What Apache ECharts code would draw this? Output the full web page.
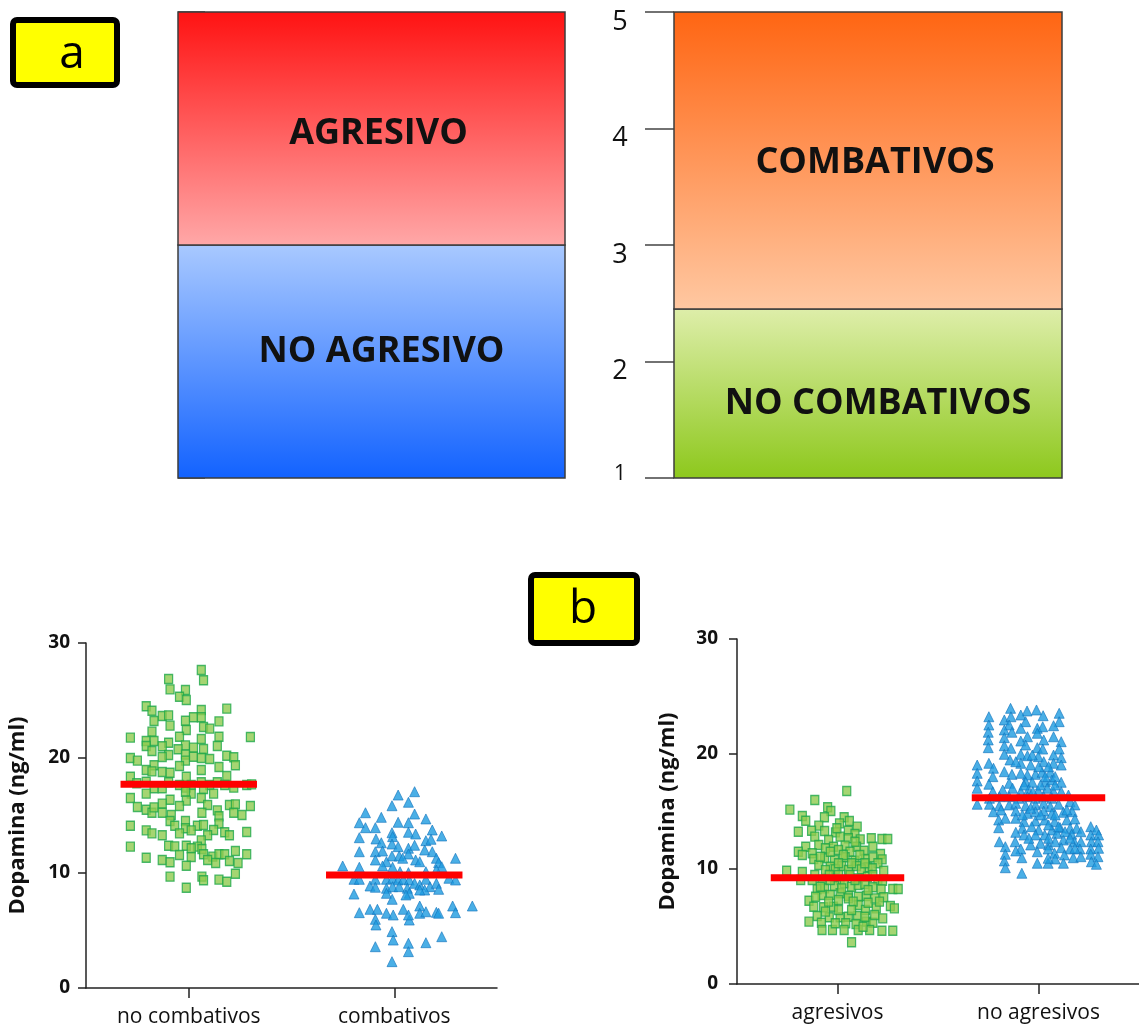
<!DOCTYPE html>
<html>
<head>
<meta charset="utf-8">
<script src="https://cdn.jsdelivr.net/npm/echarts@6/dist/echarts.min.js"></script>
<style>
  html, body { margin: 0; padding: 0; background: #ffffff; }
  #chart { width: 1139px; height: 1030px; }
</style>
</head>
<body>
<div id="chart"></div>
<script>
// ---- Panel a: behaviour scale (1 to 5) ----
const scaleTicks = [1, 2, 3, 4, 5];
const aggressionLabels = ['NO AGRESIVO', 'AGRESIVO'];
const aggressionBounds = [1, 3, 5];
const combatLabels = ['NO COMBATIVOS', 'COMBATIVOS'];
const combatBounds = [1, 2.45, 5];

// ---- Panel b: dopamine (ng/ml) per group; [jitter position, value] ----
const combatCategories = ['no combativos', 'combativos'];
const aggressionCategories = ['agresivos', 'no agresivos'];
const combatMeans = [17.71, 9.83];
const aggressionMeans = [9.25, 16.20];

const noCombativos = [
  [0.561,27.65],[0.402,26.87],[0.572,26.76],[0.409,25.97],[0.484,25.91],[0.455,25.33],[0.488,25.04],
  [0.293,24.50],[0.321,24.11],[0.685,24.29],[0.561,24.17],[0.371,23.65],[0.402,23.71],[0.523,23.54],
  [0.561,23.54],[0.331,23.22],[0.484,23.24],[0.647,23.19],[0.409,22.81],[0.572,22.70],[0.602,22.55],
  [0.488,22.43],[0.321,22.29],[0.216,21.77],[0.800,21.83],[0.647,21.85],[0.455,21.85],[0.561,21.65],
  [0.293,21.48],[0.331,21.48],[0.402,21.33],[0.371,21.02],[0.484,21.10],[0.523,20.90],[0.293,21.04],
  [0.639,21.04],[0.572,20.78],[0.448,20.76],[0.321,20.61],[0.402,20.26],[0.371,20.09],[0.484,20.29],
  [0.523,20.11],[0.561,20.00],[0.216,20.00],[0.250,19.77],[0.602,19.91],[0.685,20.20],[0.719,20.06],
  [0.484,19.77],[0.331,19.37],[0.727,19.37],[0.647,19.22],[0.293,18.96],[0.321,18.84],[0.455,19.30],
  [0.371,18.78],[0.409,18.72],[0.561,18.96],[0.216,18.37],[0.488,18.37],[0.685,18.43],
  [0.247,17.80],[0.293,17.94],[0.331,17.37],[0.371,17.37],[0.402,17.89],[0.455,17.65],[0.488,17.42],
  [0.512,17.65],[0.561,17.89],[0.602,17.65],[0.639,17.89],[0.675,17.65],[0.719,17.42],[0.782,17.65],
  [0.806,17.71],[0.572,17.30],[0.216,16.52],[0.293,16.90],[0.512,16.90],[0.484,17.07],[0.561,16.52],
  [0.621,16.90],[0.250,15.74],[0.409,16.37],[0.488,16.29],[0.371,16.03],[0.455,15.83],[0.592,15.91],
  [0.698,15.91],[0.727,15.97],[0.800,15.83],[0.293,15.50],[0.321,15.24],[0.331,15.71],[0.371,15.24],
  [0.415,15.04],[0.639,15.45],[0.719,15.24],[0.759,15.04],[0.564,15.24],[0.647,14.93],[0.409,14.52],
  [0.484,14.52],[0.216,14.11],[0.432,14.11],[0.542,14.11],[0.572,14.17],[0.647,14.29],[0.293,13.71],
  [0.321,13.45],[0.484,13.89],[0.512,13.71],[0.455,13.45],[0.621,13.74],[0.675,13.54],[0.782,13.57],
  [0.371,13.28],[0.592,13.28],[0.698,13.28],[0.561,12.84],[0.216,12.29],[0.402,12.37],[0.432,12.32],
  [0.488,12.37],[0.542,12.29],[0.512,12.15],[0.564,12.09],[0.727,11.91],[0.455,11.57],[0.512,11.39],
  [0.572,11.63],[0.617,11.42],[0.647,11.63],[0.675,11.63],[0.782,11.63],[0.293,11.33],[0.371,11.13],
  [0.409,10.93],[0.592,11.13],[0.631,10.87],[0.698,11.04],[0.740,10.87],[0.488,10.63],[0.409,9.68],
  [0.564,9.68],[0.572,9.37],[0.727,9.94],[0.647,9.42],[0.685,9.24],[0.488,8.72]
];

const combativos = [
  [1.519,16.78],[1.599,17.07],[1.489,15.85],[1.569,16.15],[1.360,15.24],[1.437,14.84],[1.599,15.13],
  [1.330,14.37],[1.360,13.94],[1.408,13.94],[1.519,14.41],[1.569,14.37],[1.654,14.70],[1.489,13.50],
  [1.569,13.54],[1.604,13.39],[1.685,13.74],[1.330,13.07],[1.411,12.96],[1.492,13.16],[1.654,12.81],
  [1.679,12.93],[1.731,13.22],[1.437,12.63],[1.489,12.52],[1.519,12.29],[1.569,12.15],[1.599,12.41],
  [1.648,12.00],[1.330,11.85],[1.408,11.85],[1.443,11.91],[1.489,11.48],[1.524,11.48],[1.569,11.65],
  [1.685,11.85],[1.408,11.13],[1.462,10.98],[1.541,11.28],[1.604,11.13],[1.624,10.98],[1.705,11.28],
  [1.716,10.90],[1.731,10.55],[1.798,11.28],[1.249,10.61],[1.330,10.50],[1.443,10.61],[1.492,10.50],
  [1.569,10.03],[1.654,10.11],[1.528,10.11],[1.705,10.26],[1.304,9.45],[1.330,9.45],[1.382,8.87],
  [1.408,9.45],[1.408,8.76],[1.462,9.45],[1.492,9.54],[1.519,9.39],[1.544,9.45],[1.573,9.39],
  [1.599,9.10],[1.624,8.96],[1.654,9.45],[1.674,8.81],[1.705,9.10],[1.766,9.54],[1.798,9.39],
  [1.462,8.67],[1.492,8.81],[1.524,8.81],[1.564,8.67],[1.573,8.23],[1.648,8.52],[1.716,8.58],
  [1.304,8.17],[1.462,8.23],[1.490,7.71],[1.557,8.09],[1.624,8.52],[1.330,6.55],[1.382,6.84],
  [1.418,6.84],[1.462,6.50],[1.495,6.35],[1.544,6.84],[1.573,5.91],[1.569,6.35],[1.624,7.13],
  [1.624,6.50],[1.654,6.63],[1.705,6.58],[1.716,6.50],[1.784,7.13],[1.798,6.55],[1.880,7.13],
  [1.408,5.97],[1.411,5.48],[1.489,4.90],[1.495,4.17],[1.408,3.59],[1.569,3.89],[1.569,3.16],
  [1.654,3.94],[1.731,4.46],[1.489,2.29]
];

const agresivos = [
  [0.546,16.78],[0.387,16.00],[0.263,15.16],[0.451,15.37],[0.467,15.04],[0.325,14.61],[0.342,14.20],
  [0.435,14.50],[0.533,14.50],[0.510,13.97],[0.559,14.17],[0.407,13.77],[0.598,13.68],[0.305,13.24],
  [0.371,13.33],[0.436,13.30],[0.490,13.19],[0.554,13.33],[0.587,13.04],[0.387,12.81],[0.456,12.52],
  [0.513,12.81],[0.554,12.67],[0.613,12.58],[0.668,12.67],[0.721,12.61],[0.750,12.61],[0.342,11.94],
  [0.407,12.09],[0.440,11.80],[0.480,11.94],[0.538,12.03],[0.595,11.94],[0.676,11.94],[0.305,11.50],
  [0.374,11.37],[0.505,11.65],[0.562,11.50],[0.632,11.59],[0.714,11.30],[0.382,10.87],[0.436,10.93],
  [0.485,10.78],[0.538,11.02],[0.587,10.72],[0.639,10.87],[0.676,11.02],[0.722,10.84],[0.407,10.35],
  [0.464,10.20],[0.521,10.26],[0.595,10.26],[0.652,10.15],[0.701,10.50],[0.247,9.85],[0.325,9.74],
  [0.440,9.91],[0.489,9.97],[0.554,9.91],[0.619,9.97],[0.673,10.06],[0.730,9.85],[0.317,9.04],
  [0.374,9.04],[0.423,9.04],[0.459,9.48],[0.513,9.04],[0.562,9.48],[0.603,9.19],[0.649,9.33],
  [0.701,9.04],[0.724,8.98],[0.399,8.23],[0.436,8.32],[0.485,8.52],[0.534,8.76],[0.570,8.46],
  [0.603,8.61],[0.636,8.70],[0.676,8.41],[0.717,8.23],[0.775,8.26],[0.802,8.26],[0.423,7.74],
  [0.464,7.74],[0.513,7.89],[0.554,7.65],[0.603,7.59],[0.644,7.65],[0.685,7.45],[0.730,7.54],
  [0.358,7.24],[0.382,6.72],[0.431,6.67],[0.480,6.72],[0.505,7.30],[0.554,7.45],[0.603,6.87],
  [0.639,6.43],[0.693,6.58],[0.763,6.78],[0.783,6.58],[0.399,5.91],[0.459,5.80],[0.513,5.80],
  [0.554,5.85],[0.600,5.91],[0.644,5.42],[0.676,5.33],[0.725,5.71],[0.358,5.42],[0.420,5.33],
  [0.541,5.28],[0.592,5.22],[0.423,4.70],[0.475,4.70],[0.533,4.70],[0.603,4.70],[0.660,4.70],
  [0.721,4.63],[0.775,4.63],[0.570,3.63],[0.497,13.54],[0.587,12.37],[0.464,11.50],[0.529,11.22],
  [0.611,11.22],[0.415,11.07],[0.505,10.50],[0.570,10.50],[0.636,10.50],[0.387,9.48],[0.505,9.48],
  [0.676,9.48],[0.464,9.04],[0.587,9.04],[0.415,8.46],[0.521,8.32],[0.652,8.17],[0.456,7.16],
  [0.578,7.16],[0.652,7.07],[0.709,7.16],[0.505,6.43],[0.570,6.43],[0.440,6.29],[0.391,7.59],
  [0.636,5.85],[0.685,6.00],[0.489,5.28],[0.627,4.98],[0.325,11.22]
];

const noAgresivos = [
  [1.361,23.97],[1.443,23.74],[1.490,23.83],[1.603,23.54],[1.253,23.24],[1.330,22.96],[1.363,23.24],
  [1.412,23.39],[1.523,23.33],[1.603,22.81],[1.436,22.81],[1.253,22.52],[1.354,22.52],[1.494,22.23],
  [1.575,22.46],[1.521,22.37],[1.250,21.89],[1.330,22.09],[1.412,22.23],[1.368,21.89],[1.445,21.50],
  [1.494,21.80],[1.575,21.50],[1.250,21.22],[1.330,21.42],[1.412,21.13],[1.526,21.22],[1.613,21.07],
  [1.250,20.55],[1.330,20.72],[1.363,20.50],[1.436,20.78],[1.494,20.55],[1.521,20.43],[1.603,20.43],
  [1.330,19.97],[1.412,19.97],[1.445,19.85],[1.499,19.77],[1.575,19.91],[1.613,19.68],[1.358,19.48],
  [1.412,19.19],[1.461,19.04],[1.526,19.33],[1.575,19.19],[1.613,19.04],[1.195,19.04],[1.253,19.19],
  [1.276,18.76],[1.330,18.46],[1.368,18.23],[1.445,18.17],[1.485,18.23],[1.518,18.41],[1.559,18.41],
  [1.195,18.32],[1.195,17.65],[1.273,18.03],[1.253,17.37],[1.354,17.45],[1.436,17.59],[1.469,17.54],
  [1.534,17.59],[1.567,17.74],[1.613,17.54],[1.195,17.02],[1.273,16.72],[1.322,16.87],[1.371,17.02],
  [1.412,16.72],[1.450,16.87],[1.499,16.78],[1.543,17.02],[1.575,16.72],[1.613,16.72],[1.256,16.15],
  [1.305,16.29],[1.354,16.29],[1.403,16.15],[1.445,16.29],[1.485,16.15],[1.526,16.29],[1.567,16.15],
  [1.649,16.43],[1.195,15.63],[1.256,15.63],[1.305,15.50],[1.354,15.57],[1.387,15.71],[1.436,15.50],
  [1.485,15.57],[1.526,15.71],[1.559,15.42],[1.600,15.63],[1.657,15.85],[1.681,15.57],[1.276,14.98],
  [1.314,15.13],[1.387,15.04],[1.445,14.84],[1.485,14.98],[1.526,15.04],[1.567,14.84],[1.624,14.93],
  [1.668,14.98],[1.302,14.26],[1.335,14.41],[1.387,14.41],[1.428,14.11],[1.485,14.17],[1.531,14.26],
  [1.580,14.11],[1.641,14.26],[1.681,14.35],[1.302,13.59],[1.420,13.54],[1.466,13.68],[1.501,13.39],
  [1.567,13.39],[1.608,13.59],[1.657,13.54],[1.690,13.54],[1.760,13.68],[1.387,13.19],[1.428,12.96],
  [1.485,12.96],[1.531,12.96],[1.592,13.10],[1.665,13.02],[1.711,13.24],[1.788,13.39],[1.760,12.96],
  [1.799,12.96],[1.305,12.37],[1.384,12.37],[1.461,12.09],[1.510,12.23],[1.550,12.09],[1.624,12.52],
  [1.678,12.37],[1.711,12.37],[1.763,12.37],[1.796,12.37],[1.335,11.94],[1.412,11.74],[1.548,11.74],
  [1.613,11.85],[1.657,11.74],[1.706,11.74],[1.760,11.74],[1.799,11.80],[1.335,11.28],[1.387,11.57],
  [1.494,11.50],[1.580,11.37],[1.629,11.22],[1.673,10.98],[1.711,11.07],[1.760,11.28],[1.796,11.07],
  [1.330,10.70],[1.417,10.98],[1.494,10.50],[1.548,10.50],[1.583,10.87],[1.624,10.50],[1.763,10.63],
  [1.788,10.41],[1.335,10.11],[1.548,10.93],[1.417,9.63],[1.387,19.33],[1.469,19.91],[1.550,18.90],
  [1.501,18.90],[1.412,18.32],[1.534,18.03],[1.583,18.03],[1.472,16.72],[1.428,17.30],[1.510,17.30],
  [1.583,17.30],[1.461,15.28],[1.510,14.70],[1.583,14.70],[1.420,14.70],[1.641,15.13],[1.550,13.83],
  [1.600,13.68],[1.632,13.24],[1.452,12.67],[1.550,12.67],[1.657,12.67],[1.583,12.37],[1.681,11.80]
];

// ---- styles ----
const FONT = '"Open Sans", "Liberation Sans", sans-serif';
const AXIS_COLOR = '#222';
const bandGradients = {
  'AGRESIVO': ['#ff1212', '#ffa8a8'],
  'NO AGRESIVO': ['#a9c9ff', '#1262ff'],
  'COMBATIVOS': ['#ff6512', '#ffc8a2'],
  'NO COMBATIVOS': ['#deeeaa', '#8dc81c']
};
const bandTextNudge = {
  'AGRESIVO': [7, 5], 'NO AGRESIVO': [10, -10], 'COMBATIVOS': [7, 2], 'NO COMBATIVOS': [10, 10]
};
const meanHalfWidth = 0.332;

function bandRows(labels, bounds) {
  return labels.map((name, i) => [bounds[i], bounds[i + 1], i]);
}

function bandRenderer(labels) {
  return function (params, api) {
    const lo = api.value(0), hi = api.value(1), name = labels[api.value(2)];
    const p0 = api.coord([0, hi]);
    const p1 = api.coord([1, lo]);
    const g = bandGradients[name];
    const nudge = bandTextNudge[name];
    return {
      type: 'group',
      children: [
        {
          type: 'rect',
          shape: { x: p0[0], y: p0[1], width: p1[0] - p0[0], height: p1[1] - p0[1] },
          style: {
            fill: { type: 'linear', x: 0, y: 0, x2: 0, y2: 1,
                    colorStops: [{ offset: 0, color: g[0] }, { offset: 1, color: g[1] }] },
            stroke: '#3c3c3c', lineWidth: 1.5
          }
        },
        {
          type: 'text',
          x: (p0[0] + p1[0]) / 2 + nudge[0],
          y: (p0[1] + p1[1]) / 2 + nudge[1],
          style: {
            text: name, fill: '#111', font: 'bold 36px ' + FONT,
            align: 'center', verticalAlign: 'middle'
          }
        }
      ]
    };
  };
}

function meanRenderer(params, api) {
  const x = api.value(0), v = api.value(1);
  const a = api.coord([x - meanHalfWidth, v]);
  const b = api.coord([x + meanHalfWidth, v]);
  return {
    type: 'line',
    shape: { x1: a[0], y1: a[1], x2: b[0], y2: b[1] },
    style: { stroke: '#ff0000', lineWidth: 7 }
  };
}

const squareStyle = { color: '#8ecb4f', borderColor: '#1ea84a', borderWidth: 1.3 };
const triangleStyle = { color: '#1d9be0', borderColor: '#1474bd', borderWidth: 0.8 };

function scatterYAxis(gridIndex, nameGap, labelMargin) {
  return {
    gridIndex, type: 'value', min: 0, max: 30, interval: 10,
    name: 'Dopamina (ng/ml)', nameLocation: 'middle', nameRotate: 90, nameGap,
    nameTextStyle: { fontFamily: FONT, fontWeight: 'bold', fontSize: 22, color: '#111' },
    axisLine: { show: true, lineStyle: { color: AXIS_COLOR, width: 1.5 } },
    axisTick: { show: true, length: 8, lineStyle: { color: AXIS_COLOR, width: 1.5 } },
    axisLabel: { fontFamily: FONT, fontWeight: 'bold', fontSize: 19, color: '#111', margin: labelMargin },
    splitLine: { show: false }
  };
}

function categoryXAxis(gridIndex, data) {
  return {
    gridIndex, type: 'category', data, boundaryGap: true,
    axisLine: { show: true, lineStyle: { color: AXIS_COLOR, width: 1.5 } },
    axisTick: { show: true, alignWithLabel: true, length: 10, lineStyle: { color: AXIS_COLOR, width: 1.5 } },
    axisLabel: { fontFamily: FONT, fontSize: 21, color: '#111', margin: 19 },
    splitLine: { show: false }
  };
}

const hiddenX = (gridIndex, max) => ({ gridIndex, type: 'value', min: 0, max, show: false });

const chart = echarts.init(document.getElementById('chart'), null, { renderer: 'canvas' });

chart.setOption({
  backgroundColor: '#ffffff',
  animation: false,
  grid: [
    { left: 178, top: 12, width: 387, height: 466 },
    { left: 674, top: 12, width: 388, height: 466 },
    { left: 86, top: 643, width: 411, height: 345 },
    { left: 737, top: 639, width: 408, height: 345 }
  ],
  xAxis: [
    hiddenX(0, 1),
    hiddenX(1, 1),
    categoryXAxis(2, combatCategories),
    hiddenX(2, 2),
    categoryXAxis(3, aggressionCategories),
    hiddenX(3, 2)
  ],
  yAxis: [
    {
      gridIndex: 0, type: 'value', min: scaleTicks[0], max: scaleTicks[scaleTicks.length - 1], interval: 1,
      position: 'right',
      axisLine: { show: false },
      axisTick: { show: true, length: 27, lineStyle: { color: '#444', width: 1.5 } },
      axisLabel: { show: false },
      splitLine: { show: false }
    },
    {
      gridIndex: 1, type: 'value', min: scaleTicks[0], max: scaleTicks[scaleTicks.length - 1], interval: 1,
      position: 'left',
      axisLine: { show: false },
      axisTick: { show: true, length: 29, lineStyle: { color: '#444', width: 1.5 } },
      axisLabel: {
        show: true, align: 'center', margin: 54, color: '#111',
        formatter: v => (v === scaleTicks[0] ? '{s|' + v + '}' : '{n|' + v + '}'),
        rich: {
          n: { fontFamily: FONT, fontSize: 27, color: '#111', padding: [20, 0, 0, 0] },
          s: { fontFamily: FONT, fontSize: 21, color: '#111', padding: [0, 0, 8, 0] }
        }
      },
      splitLine: { show: false }
    },
    scatterYAxis(2, 57, 16),
    scatterYAxis(3, 58, 19)
  ],
  series: [
    {
      type: 'custom', xAxisIndex: 0, yAxisIndex: 0,
      renderItem: bandRenderer(aggressionLabels),
      data: bandRows(aggressionLabels, aggressionBounds), z: 2
    },
    {
      type: 'custom', xAxisIndex: 1, yAxisIndex: 1,
      renderItem: bandRenderer(combatLabels),
      data: bandRows(combatLabels, combatBounds), z: 2
    },
    {
      type: 'scatter', xAxisIndex: 3, yAxisIndex: 2, data: noCombativos,
      symbol: 'rect', symbolSize: [8, 9], itemStyle: squareStyle
    },
    {
      type: 'scatter', xAxisIndex: 3, yAxisIndex: 2, data: combativos,
      symbol: 'triangle', symbolSize: [10, 10], itemStyle: triangleStyle
    },
    {
      type: 'scatter', xAxisIndex: 5, yAxisIndex: 3, data: agresivos,
      symbol: 'rect', symbolSize: [8, 9], itemStyle: squareStyle
    },
    {
      type: 'scatter', xAxisIndex: 5, yAxisIndex: 3, data: noAgresivos,
      symbol: 'triangle', symbolSize: [10, 10], itemStyle: triangleStyle
    },
    {
      type: 'custom', xAxisIndex: 3, yAxisIndex: 2, renderItem: meanRenderer, z: 10,
      data: combatMeans.map((m, i) => [i + 0.5, m])
    },
    {
      type: 'custom', xAxisIndex: 5, yAxisIndex: 3, renderItem: meanRenderer, z: 10,
      data: aggressionMeans.map((m, i) => [i + 0.5, m])
    }
  ],
  graphic: [
    {
      type: 'group', left: 10, top: 17,
      children: [
        { type: 'rect', shape: { x: 3, y: 3, width: 104, height: 65, r: 4 },
          style: { fill: '#ffff00', stroke: '#000', lineWidth: 6 } },
        { type: 'text', x: 62, y: 38,
          style: { text: 'a', font: '46px ' + FONT, fill: '#000', align: 'center', verticalAlign: 'middle' } }
      ]
    },
    {
      type: 'group', left: 528, top: 572,
      children: [
        { type: 'rect', shape: { x: 3, y: 3, width: 106, height: 68, r: 4 },
          style: { fill: '#ffff00', stroke: '#000', lineWidth: 6 } },
        { type: 'text', x: 55, y: 38,
          style: { text: 'b', font: '46px ' + FONT, fill: '#000', align: 'center', verticalAlign: 'middle' } }
      ]
    }
  ]
});
</script>
</body>
</html>
